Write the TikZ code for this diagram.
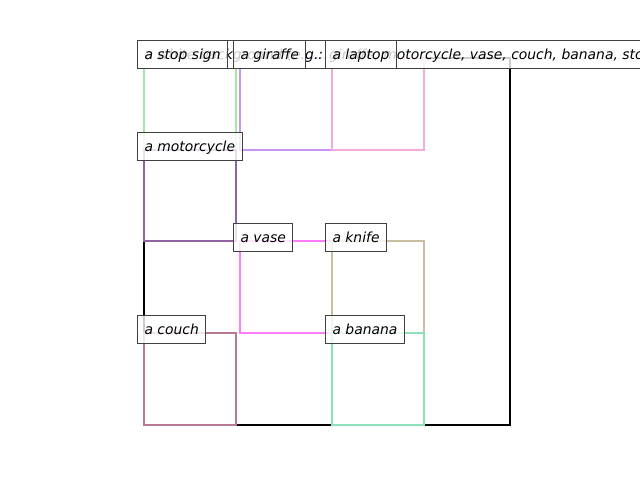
\documentclass[tikz,border=0pt]{standalone}
\usepackage{fontspec}
\setmainfont{DejaVu Sans}
\definecolor{cstop}{RGB}{165,230,165}
\definecolor{cgiraffe}{RGB}{200,150,240}
\definecolor{claptop}{RGB}{245,170,215}
\definecolor{cmoto}{RGB}{145,100,160}
\definecolor{cvase}{RGB}{255,125,250}
\definecolor{cknife}{RGB}{200,190,160}
\definecolor{ccouch}{RGB}{185,120,150}
\definecolor{cbanana}{RGB}{140,225,185}
\tikzset{
  objbox/.style={line width=2pt},
  lab/.style={anchor=west, draw=black!75, line width=1pt, fill=white, fill opacity=0.8, text opacity=1,
    inner xsep=7pt, inner ysep=7pt, text height=12pt, text depth=2pt,
    font=\fontsize{13.9}{16}\selectfont\itshape}
}
\begin{document}
\begin{tikzpicture}[x=1pt,y=-1pt]
\useasboundingbox (0,0) rectangle (640,480);
\clip (0,0) rectangle (640,480);
\fill[white] (0,0) rectangle (640,480);
\draw[line width=2.2pt, black] (144,58) rectangle (510,425);
\draw[objbox, cstop] (144,58) rectangle (235.5,150);
\draw[objbox, cgiraffe] (240,58) rectangle (332,150);
\draw[objbox, claptop] (332,58) rectangle (424,150);
\draw[objbox, cmoto] (144,150) rectangle (235.5,241);
\draw[objbox, cvase] (240,241) rectangle (332,333);
\draw[objbox, cknife] (332,241) rectangle (424,333);
\draw[objbox, ccouch] (144,333) rectangle (235.5,425);
\draw[objbox, cbanana] (332,333) rectangle (424,425);
\node[lab] (long) at (137,54) {a white background (e.g.: giraffe, motorcycle, vase, couch, banana, stop sign, knife, laptop)};
\node[lab] (lstop) at (137,54) {a stop sign};
\node[lab] (lgiraffe) at (233,54) {a giraffe};
\node[lab] (llaptop) at (325,54) {a laptop};
\node[lab] (lmoto) at (137,146) {a motorcycle};
\node[lab] (lvase) at (233,237) {a vase};
\node[lab] (lknife) at (325,237) {a knife};
\node[lab] (lcouch) at (137,329) {a couch};
\node[lab] (lbanana) at (325,329) {a banana};
\end{tikzpicture}
\end{document}
